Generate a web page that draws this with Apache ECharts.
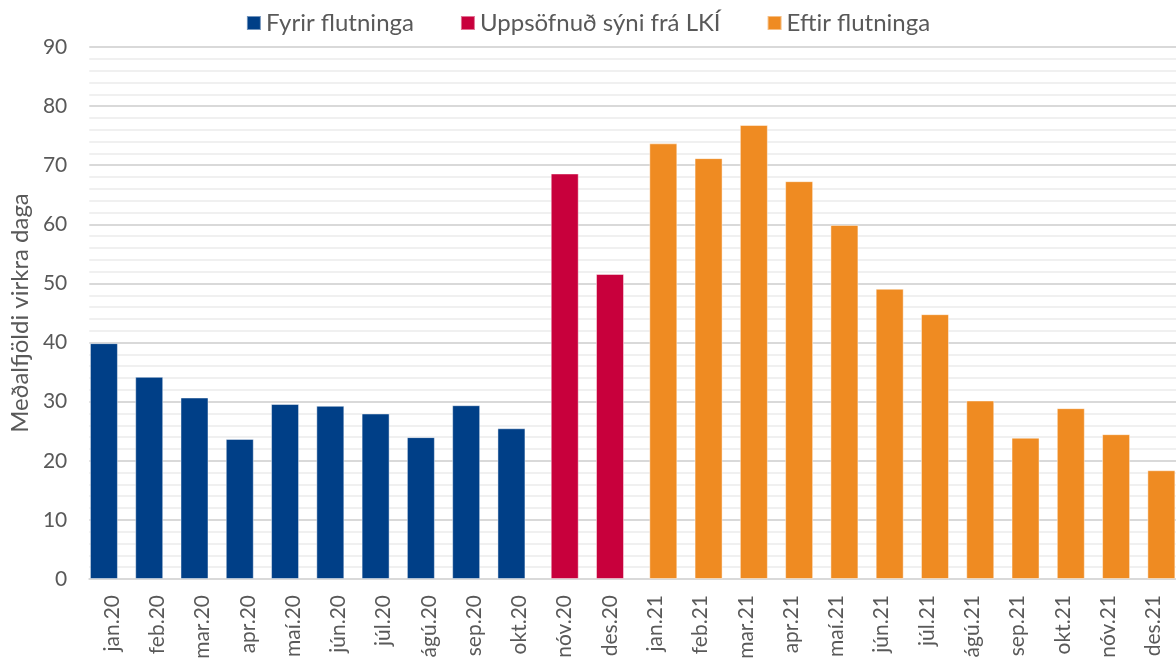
<!DOCTYPE html>
<html><head><meta charset="utf-8">
<script src="https://cdn.jsdelivr.net/npm/echarts@6/dist/echarts.min.js"></script>
<style>html,body{margin:0;padding:0;background:#fff}#c{width:1176px;height:664px}</style>
</head><body><div id="c"></div>
<script>
const categories = ['jan.20','feb.20','mar.20','apr.20','maí.20','jún.20','júl.20','ágú.20','sep.20','okt.20','nóv.20','des.20','jan.21','feb.21','mar.21','apr.21','maí.21','jún.21','júl.21','ágú.21','sep.21','okt.21','nóv.21','des.21'];
const fyrir = [39.9,34.2,30.7,23.7,29.6,29.3,28.0,24.0,29.4,25.5,'-','-','-','-','-','-','-','-','-','-','-','-','-','-'];
const uppsofnud = ['-','-','-','-','-','-','-','-','-','-',68.6,51.6,'-','-','-','-','-','-','-','-','-','-','-','-'];
const eftir = ['-','-','-','-','-','-','-','-','-','-','-','-',73.7,71.2,76.8,67.3,59.9,49.1,44.8,30.2,23.9,28.9,24.5,18.4];
const seriesNames = ['Fyrir flutninga','Uppsöfnuð sýni frá LKÍ','Eftir flutninga'];
const colors = ['#003f87','#c8003c','#ef8b22'];
const yTicks = {min:0,max:90,interval:10};

const chart = echarts.init(document.getElementById('c'));
const font = 'Lato, "Open Sans", sans-serif';
const mk = (name, data, color) => ({
  name, type:'bar', data, barWidth:28, barGap:'-71.4%',
  itemStyle:{color, borderColor:'rgba(255,255,255,0.45)', borderWidth:1},
  animation:false
});
chart.setOption({
  animation:false,
  color: colors,
  textStyle:{fontFamily:font},
  legend:{top:6, left:'center', itemWidth:14, itemHeight:14, itemGap:46,
    icon:'rect',
    textStyle:{fontSize:24, color:'#595959', fontFamily:font}},
  grid:{left:89.3, top:47, bottom:85, width:1089.6},
  xAxis:{type:'category', data:categories,
    axisLine:{lineStyle:{color:'#d9d9d9', width:2}},
    axisTick:{show:false},
    axisLabel:{rotate:90, fontSize:21, color:'#595959', margin:16, interval:0, fontFamily:font}},
  yAxis:{type:'value', min:yTicks.min, max:yTicks.max, interval:yTicks.interval,
    name:'Meðalfjöldi virkra daga', nameLocation:'middle', nameGap:56, nameRotate:90,
    nameTextStyle:{fontSize:24, color:'#595959', fontFamily:font},
    axisLine:{show:false}, axisTick:{show:false},
    axisLabel:{fontSize:21, color:'#595959', margin:22, fontFamily:font},
    splitLine:{lineStyle:{color:'#d9d9d9', width:2}},
    minorTick:{show:false, splitNumber:5},
    minorSplitLine:{show:true, lineStyle:{color:'#f0f0f0', width:2}}},
  series:[mk(seriesNames[0], fyrir, colors[0]), mk(seriesNames[1], uppsofnud, colors[1]), mk(seriesNames[2], eftir, colors[2])]
});
</script></body></html>
